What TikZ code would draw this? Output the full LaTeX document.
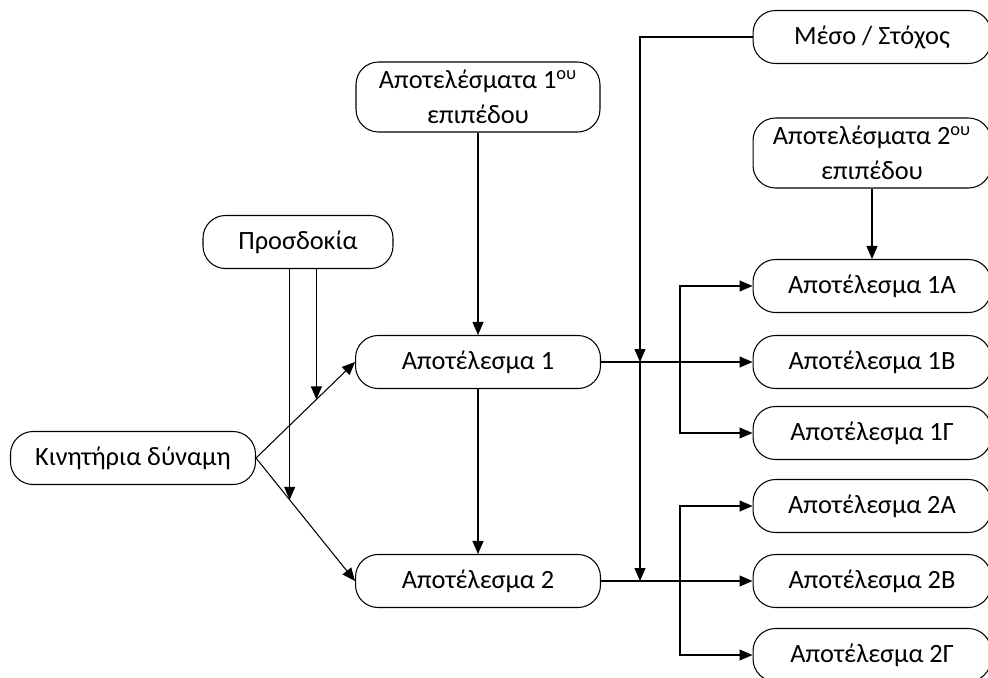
\documentclass[tikz,border=0pt]{standalone}
\usepackage{fontspec}
\setmainfont{Carlito}
\usetikzlibrary{calc, arrows.meta, positioning}

\begin{document}
\begin{tikzpicture}[x=0.02cm, y=-0.02cm, >={Triangle[length=2.6mm, width=2.2mm]}]
			\tikzstyle{node} = [draw=black, line width=0.6pt, rectangle, rounded corners=0.45cm, font=\fontsize{15}{20}\selectfont, minimum height=1.06cm, inner sep=0pt, align=center]
			\tikzstyle{node2} = [node, minimum height=1.4cm]
			\tikzstyle{arrow} = [line width=0.6pt, ->]
			
			\useasboundingbox (0, 0) rectangle (988, 677);
			
			\node[node, minimum width=4.9cm]	at (133, 458)	(q1)	{Κινητήρια δύναμη};
			\node[node, minimum width=3.8cm]	at (298, 242)	(q2)	{Προσδοκία};
			\node[node2, minimum width=4.88cm]	at (478, 97)	(q3)	{Αποτελέσματα 1\textsuperscript{ου}\\επιπέδου};
			\node[node, minimum width=4.9cm]	at (478, 362)	(q4)	{Αποτέλεσμα 1};
			\node[node, minimum width=4.9cm]	at (478, 581)	(q5)	{Αποτέλεσμα 2};
			
			\node[node, minimum width=4.76cm]	at (872, 37)	(q6)	{Μέσο / Στόχος};
			\node[node2, minimum width=4.76cm]	at (872, 153)	(q7)	{Αποτελέσματα 2\textsuperscript{ου}\\επιπέδου};
			\node[node, minimum width=4.76cm]	at (872, 286)	(q8)	{Αποτέλεσμα 1Α};
			\node[node, minimum width=4.76cm]	at (872, 362)	(q9)	{Αποτέλεσμα 1Β};
			\node[node, minimum width=4.76cm]	at (872, 433)	(q10)	{Αποτέλεσμα 1Γ};
			\node[node, minimum width=4.76cm]	at (872, 506)	(q11)	{Αποτέλεσμα 2Α};
			\node[node, minimum width=4.76cm]	at (872, 581)	(q12)	{Αποτέλεσμα 2Β};
			\node[node, minimum width=4.76cm]	at (872, 655)	(q13)	{Αποτέλεσμα 2Γ};
			
			\coordinate (m1) at (640, 362);
			\coordinate (m2) at (640, 581);
			\coordinate (b1) at (680, 362);
			\coordinate (b2) at (680, 581);
			
			\draw [arrow]	(q1.east) -- coordinate[pos=0.61] (c1) (q4.west);
			\draw [arrow]	(q1.east) -- coordinate[pos=0.34] (c2) (q5.west);
			\draw [arrow]	(c1 |- q2.south) -- (c1);
			\draw [arrow]	(c2 |- q2.south) -- (c2);
			
			\draw [arrow]	(q3) -- (q4);
			\draw [arrow]	(q4) -- (q5);
			\draw [arrow]	(q7) -- (q8);
			
			\draw [arrow]	(q6.west) -| (m1);
			\draw [arrow]	(m1) -- (m2);
			
			\draw [arrow]	(q4) -- (q9);
			\draw [arrow]	(b1) |- (q8.west);
			\draw [arrow]	(b1) |- (q10.west);
			
			\draw [arrow]	(q5) -- (q12);
			\draw [arrow]	(b2) |- (q11.west);
			\draw [arrow]	(b2) |- (q13.west);
		\end{tikzpicture}
\end{document}
